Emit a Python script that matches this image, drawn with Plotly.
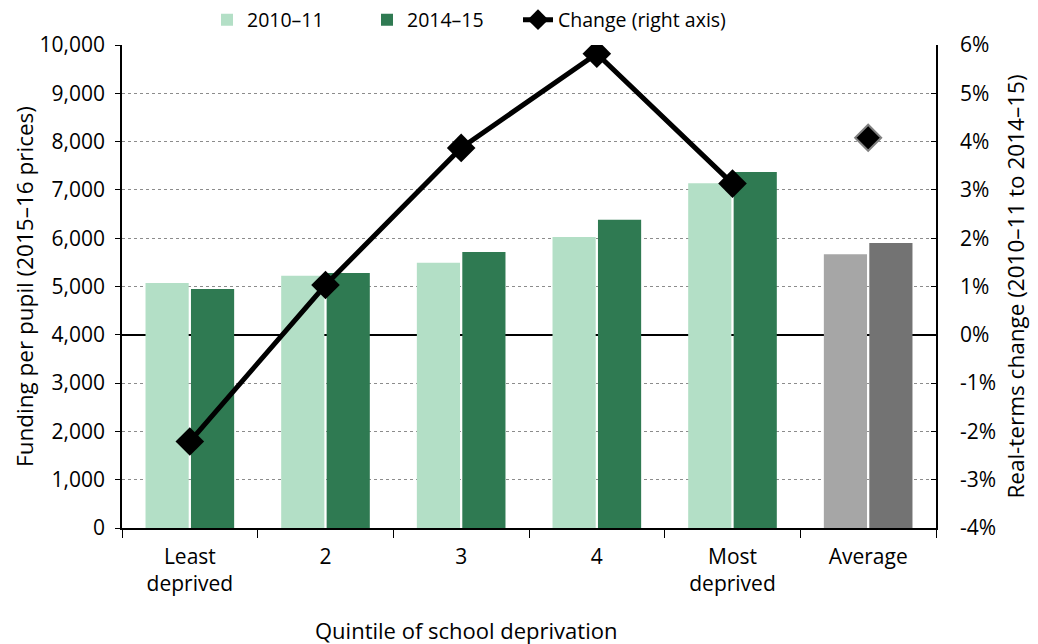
import plotly.graph_objects as go

categories = ["Least<br>deprived", "2", "3", "4", "Most<br>deprived", "Average"]
funding_2010 = [5070, 5220, 5490, 6025, 7140, 5670]
funding_2014 = [4950, 5280, 5715, 6380, 7370, 5900]
change_quintiles = [-2.21, 1.03, 3.87, 5.82, 3.13]
change_average = [4.08]

left_ticks = list(range(0, 10001, 1000))
right_ticks = list(range(-4, 7))
right_ticktext = [f"{v}%" for v in right_ticks]

light_colors = ["#b3dfc6"] * 5 + ["#a6a6a6"]
dark_colors = ["#2f7a52"] * 5 + ["#737373"]

FONT = "Open Sans"
FS = 21
TS = 22.5
LS = 19.5

fig = go.Figure()
fig.add_trace(go.Bar(x=categories, y=funding_2010, name="2010–11", legend="legend",
                     marker=dict(color=light_colors, line=dict(width=0))))
fig.add_trace(go.Bar(x=categories, y=funding_2014, name="2014–15", legend="legend2",
                     marker=dict(color=dark_colors, line=dict(width=0))))
fig.add_trace(go.Scatter(x=categories[:5], y=change_quintiles, name="Change (right axis)",
                         legend="legend3", yaxis="y2", mode="lines+markers",
                         line=dict(color="black", width=5),
                         marker=dict(symbol="diamond", size=22, color="black")))
fig.add_trace(go.Scatter(x=categories[5:], y=change_average, yaxis="y2", mode="markers",
                         showlegend=False,
                         marker=dict(symbol="diamond", size=20, color="black",
                                     line=dict(color="#808080", width=2))))


def legend_at(px):
    return dict(orientation="h", x=px / 1038, xref="container", xanchor="left",
                y=1 - 20 / 644, yref="container", yanchor="middle",
                font=dict(size=LS), bgcolor="rgba(0,0,0,0)")


fig.update_layout(
    width=1038, height=644,
    margin=dict(l=122, r=102, t=45, b=116, autoexpand=False),
    paper_bgcolor="white", plot_bgcolor="white",
    font=dict(family=FONT, size=FS, color="black"),
    barmode="group", bargap=0.33, bargroupgap=0.05,
    legend=legend_at(207),
    legend2=legend_at(367),
    legend3=legend_at(518),
    xaxis=dict(showline=True, linecolor="black", linewidth=1.5,
               ticks="outside", tickson="boundaries", ticklen=8, tickcolor="black",
               tickfont=dict(size=FS), ticklabelstandoff=9, automargin=False),
    yaxis=dict(range=[0, 10000], tickvals=left_ticks, tickformat=",",
               showline=True, linecolor="black", linewidth=1.5,
               ticks="outside", ticklen=5, tickcolor="black", ticklabelstandoff=6,
               showgrid=True, gridcolor="#8c8c8c", griddash="dot", gridwidth=1,
               zeroline=False, automargin=False,
               title=dict(text="Funding per pupil (2015–16 prices)", font=dict(size=TS), standoff=0)),
    yaxis2=dict(range=[-4, 6], tickvals=right_ticks, ticktext=right_ticktext,
                overlaying="y", side="right",
                showline=True, linecolor="black", linewidth=1.5,
                ticks="inside", ticklen=5, tickcolor="black", ticklabelstandoff=18,
                showgrid=False, zeroline=True, zerolinecolor="black", zerolinewidth=2,
                automargin=False,
                title=dict(text="Real-terms change (2010–11 to 2014–15)", font=dict(size=TS), standoff=13)),
    annotations=[dict(text="Quintile of school deprivation", xref="paper", yref="paper",
                      x=0.422, y=0, yshift=-102, xanchor="center", yanchor="middle",
                      showarrow=False, font=dict(size=22))],
)

fig.write_html("out.html", config={"displayModeBar": False},
               post_script="document.body.style.margin='0';document.body.style.padding='0';")
